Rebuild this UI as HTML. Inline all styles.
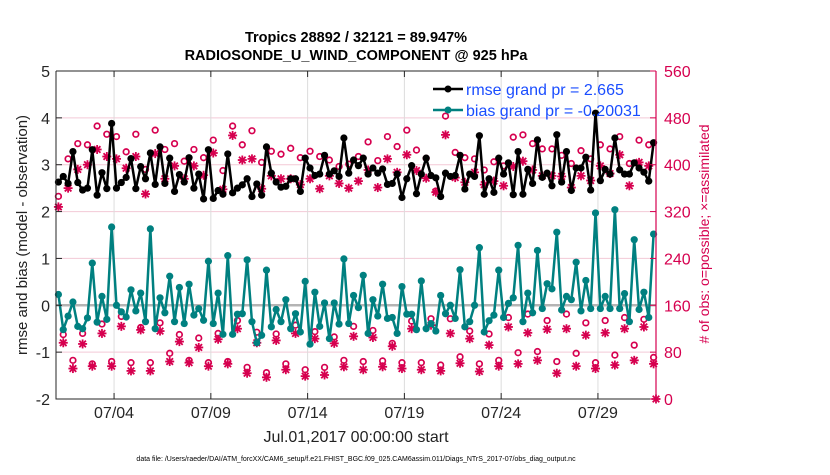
<!DOCTYPE html>
<html><head><meta charset="utf-8"><style>
body{margin:0;background:#fff;}
svg text{font-family:"Liberation Sans",Arial,sans-serif;}
</style></head><body>
<svg id="chart" width="830" height="470" viewBox="0 0 830 470" xmlns="http://www.w3.org/2000/svg">
<rect x="0" y="0" width="830" height="470" fill="#fff"/>
<text x="356" y="42" font-size="14.5" font-weight="bold" text-anchor="middle" fill="#000">Tropics 28892 / 32121 = 89.947%</text>
<text x="356" y="60" font-size="14.5" font-weight="bold" text-anchor="middle" fill="#000">RADIOSONDE_U_WIND_COMPONENT @ 925 hPa</text>
<g id="grid"></g>
<g id="marks"></g>
<g id="axes"></g>
<g>
<line x1="433" y1="89" x2="463" y2="89" stroke="#000" stroke-width="2.5"/>
<circle cx="448" cy="89" r="3.5" fill="#000"/>
<text x="466" y="95" font-size="16" fill="#1a4dff">rmse grand pr = 2.665</text>
<line x1="433" y1="110" x2="463" y2="110" stroke="#008080" stroke-width="2.5"/>
<circle cx="448" cy="110" r="3.5" fill="#008080"/>
<text x="466" y="116" font-size="16" fill="#1a4dff">bias grand pr = -0.20031</text>
</g>
<text transform="translate(27,235) rotate(-90)" font-size="15" text-anchor="middle" fill="#222">rmse and bias (model - observation)</text>
<text transform="translate(709,234) rotate(-90)" font-size="14" text-anchor="middle" fill="#d6004f"># of obs: o=possible; ×=assimilated</text>
<text x="356" y="442" font-size="16" text-anchor="middle" fill="#222">Jul.01,2017 00:00:00 start</text>
<text x="356" y="461" font-size="7" text-anchor="middle" fill="#000">data file: /Users/raeder/DAI/ATM_forcXX/CAM6_setup/f.e21.FHIST_BGC.f09_025.CAM6assim.011/Diags_NTrS_2017-07/obs_diag_output.nc</text>
</svg>
<script>
const rmse=[2.63,2.75,2.6,3.28,2.62,2.46,2.5,3.32,2.35,2.83,2.49,3.88,2.5,2.62,2.73,3.13,2.49,2.96,2.7,3.25,2.58,3.38,2.6,3.14,2.43,2.79,2.63,3.15,2.5,2.8,2.27,3.32,2.28,2.45,2.37,3.23,2.4,2.5,2.57,2.7,2.32,2.59,
2.35,3.38,2.82,2.63,2.52,2.54,2.7,2.7,2.43,3.14,2.93,2.77,2.8,3.2,2.8,2.87,2.75,3.57,2.82,3.1,2.98,3.14,2.8,2.93,2.82,2.91,2.58,2.6,2.8,2.3,2.7,2.98,2.38,2.8,3.14,2.77,2.72,2.32,2.82,2.75,2.77,3.2,
2.48,2.8,2.75,3.62,2.37,2.7,2.41,3.14,2.8,3.04,2.36,3.28,2.37,2.9,2.6,3.53,2.73,2.82,2.55,3.64,2.63,3.28,2.45,2.93,2.93,3.16,2.46,4.1,2.66,2.9,2.8,3.57,2.89,2.8,2.8,3.04,2.93,2.84,2.65,3.47];
const bias=[0.23,-0.52,-0.23,0.07,-0.45,-0.5,-0.27,0.9,-0.36,0.19,-0.3,1.67,0,-0.14,-0.25,0.33,-0.12,0.26,-0.35,1.63,-0.5,0.16,-0.16,0.62,-0.35,0.38,-0.39,0.45,-0.21,-0.07,-0.32,0.94,-0.39,0.26,-0.62,1.06,-0.62,-0.19,-0.18,0.97,-0.35,-0.8,
-0.64,0.75,-0.46,-0.09,-0.35,0.12,-0.5,-0.18,-0.57,0.51,-0.83,0.28,-0.45,0.05,-0.71,0.05,-0.4,0.99,-0.39,0.21,-0.05,0.64,-0.6,0.12,-0.23,0.45,-0.28,-0.26,-0.6,0.4,-0.19,-0.19,-0.52,0.52,-0.5,-0.39,-0.55,0.21,-0.18,0,-0.28,0.76,
-0.46,-0.35,0,1.23,-0.57,-0.33,-0.21,0.75,-0.26,0.04,0.16,1.28,-0.35,0.26,-0.16,1.17,-0.07,0.46,0.35,1.56,-0.1,0.19,0.12,0.92,-0.12,0.53,-0.07,1.97,-0.07,0.19,-0.07,2.04,-0.07,0.25,-0.35,1.4,-0.09,0.28,-0.26,1.52];
const possible=[346,110,410,66,436,112,434,60,466,128,452,64,448,141,422,62,452,122,392,62,459,130,426,78,436,110,406,66,426,104,412,62,442,112,390,64,466,134,434,54,458,114,
404,45,423,111,418,60,428,126,412,50,423,115,414,54,408,106,397,66,401,124,414,64,439,117,407,65,448,95,431,62,459,133,425,62,411,137,355,58,483,137,421,72,
412,116,410,60,391,111,405,66,398,139,447,79,451,145,436,81,427,134,427,64,416,145,402,78,424,130,410,62,434,134,427,75,448,139,402,92,442,136,434,71,0];
const assimilated=[328,96,360,52,392,94,400,56,426,112,414,56,410,124,394,48,414,118,350,48,419,116,376,64,398,98,376,62,398,88,382,56,420,102,358,60,450,120,408,44,410,96,
359,37,381,100,376,50,376,112,366,39,376,103,359,41,381,95,368,55,360,107,372,50,391,105,361,55,410,90,387,52,417,120,390,50,377,126,353,48,451,112,378,61,
370,103,387,47,366,92,372,56,364,123,397,60,406,113,391,66,381,119,381,44,380,120,361,56,381,109,373,52,398,113,385,58,417,120,364,66,404,123,398,60,0];
const yTicks=[-2,-1,0,1,2,3,4,5];
const y2Ticks=[0,80,160,240,320,400,480,560];
const xTickDays=[3,8,13,18,23,28];
const xTickLabels=["07/04","07/09","07/14","07/19","07/24","07/29"];

const NS="http://www.w3.org/2000/svg";
const L=56,R=656,T=71,B=399;
function xs(i){return L+(i*0.25+0.125)*(R-L)/31;}
function xd(d){return L+d*(R-L)/31;}
function ys(v){return B-(v+2)*(B-T)/7;}
function ys2(c){return B-c*(B-T)/560;}
function mk(tag,attrs,parent){const e=document.createElementNS(NS,tag);for(const k in attrs)e.setAttribute(k,attrs[k]);parent.appendChild(e);return e;}
const grid=document.getElementById('grid'),marks=document.getElementById('marks'),axes=document.getElementById('axes');
yTicks.forEach(v=>{const g=mk('line',{x1:L,x2:R,y1:ys(v),y2:ys(v),stroke:'#f3c9d6','stroke-width':1},grid);

});
xTickDays.forEach(d=>{const g=mk('line',{x1:xd(d),x2:xd(d),y1:T,y2:B,stroke:'#dcdcdc','stroke-width':1},grid);

});
const z=mk('line',{x1:L,x2:R,y1:ys(0),y2:ys(0),stroke:'#b4b4b4','stroke-width':2.5},grid);


function star(cx,cy,name){const g=mk('g',{stroke:'#d6004f','stroke-width':1.8},marks);


const s=4.5;mk('line',{x1:cx-s,x2:cx+s,y1:cy,y2:cy},g);mk('line',{x1:cx,x2:cx,y1:cy-s,y2:cy+s},g);
const t=3.3;mk('line',{x1:cx-t,x2:cx+t,y1:cy-t,y2:cy+t},g);mk('line',{x1:cx-t,x2:cx+t,y1:cy+t,y2:cy-t},g);}
possible.forEach((c,i)=>{if(c<=0)return;const e=mk('circle',{cx:xs(i),cy:ys2(c),r:2.8,fill:'none',stroke:'#d6004f','stroke-width':1.7},marks);

});
assimilated.forEach((c,i)=>{const x=Math.min(xs(i),R);star(x,ys2(c),'assimilated-obs-point');});
function series(arr,col,name){const pts=arr.map((v,i)=>xs(i)+','+ys(v)).join(' ');
const p=mk('polyline',{points:pts,fill:'none',stroke:col,'stroke-width':2.5,'stroke-linejoin':'round'},marks);


arr.forEach((v,i)=>{const c=mk('circle',{cx:xs(i),cy:ys(v),r:3.6,fill:col},marks);

});}
series(bias,'#008080','bias');
series(rmse,'#000000','rmse');
const bx=mk('path',{d:`M${L},${T}H${R}M${L},${T}V${B}H${R}`,stroke:'#262626','stroke-width':1,fill:'none'},axes);


const ra=mk('line',{x1:R,x2:R,y1:T,y2:B,stroke:'#d6004f','stroke-width':1.2},axes);


yTicks.forEach(v=>{mk('line',{x1:L,x2:L+6,y1:ys(v),y2:ys(v),stroke:'#262626'},axes);
const t=mk('text',{x:L-6,y:ys(v)+6,'font-size':16,'text-anchor':'end',fill:'#262626'},axes);t.textContent=v;

});
y2Ticks.forEach(c=>{mk('line',{x1:R-6,x2:R,y1:ys2(c),y2:ys2(c),stroke:'#d6004f'},axes);
const t=mk('text',{x:R+8,y:ys2(c)+6,'font-size':16,fill:'#d6004f'},axes);t.textContent=c;

});
xTickDays.forEach((d,i)=>{mk('line',{x1:xd(d),x2:xd(d),y1:B,y2:B-6,stroke:'#262626'},axes);mk('line',{x1:xd(d),x2:xd(d),y1:T,y2:T+6,stroke:'#262626'},axes);
const t=mk('text',{x:xd(d),y:418,'font-size':16,'text-anchor':'middle',fill:'#262626'},axes);t.textContent=xTickLabels[i];

});
</script>
</body></html>
